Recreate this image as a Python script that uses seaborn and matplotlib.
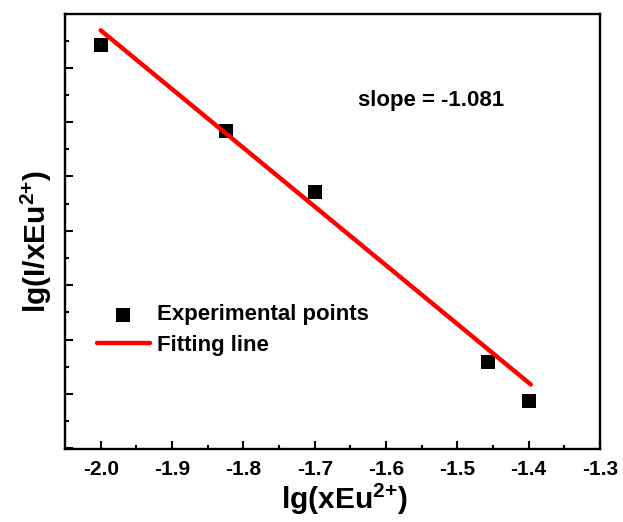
import matplotlib
matplotlib.use("Agg")
import matplotlib.pyplot as plt
import seaborn as sb
import numpy as np
from matplotlib.ticker import MultipleLocator

# ---- data ----
lg_x = [-2.0, -1.824, -1.700, -1.457, -1.399]
lg_I = [3.642, 3.484, 3.371, 3.059, 2.987]
slope = -1.081
intercept = 1.507
fit_x = [-2.0, -1.397]
fit_y = [intercept + slope * v for v in fit_x]

sb.set_style("ticks")
plt.rcParams["font.family"] = ["Liberation Sans", "DejaVu Sans"]
plt.rcParams["font.weight"] = "bold"
plt.rcParams["text.color"] = "black"
plt.rcParams["xtick.color"] = "black"
plt.rcParams["ytick.color"] = "black"
plt.rcParams["axes.labelcolor"] = "black"
plt.rcParams["mathtext.fontset"] = "custom"
plt.rcParams["mathtext.rm"] = "Liberation Sans:bold"
plt.rcParams["mathtext.it"] = "Liberation Sans:bold"
plt.rcParams["mathtext.bf"] = "Liberation Sans:bold"

fig = plt.figure(figsize=(6.23, 5.22), dpi=100)
ax = fig.add_axes([65 / 623, 1 - 449.3 / 522, 535 / 623, 435.3 / 522])

sb.scatterplot(x=lg_x, y=lg_I, marker="s", s=105, color="black", linewidth=0,
               label="Experimental points", ax=ax, zorder=2)
sb.lineplot(x=fit_x, y=fit_y, color="#ff0000", linewidth=3.2,
            label="Fitting line", ax=ax, zorder=3)

ax.set_xlim(-2.05, -1.3)
ax.set_ylim(2.898, 3.699)
ax.xaxis.set_major_locator(MultipleLocator(0.1))
ax.xaxis.set_minor_locator(MultipleLocator(0.05))
ax.yaxis.set_major_locator(MultipleLocator(0.1))
ax.yaxis.set_minor_locator(MultipleLocator(0.05))
ax.xaxis.set_major_formatter(plt.FuncFormatter(lambda v, p: "%.1f" % v))
ax.tick_params(which="both", direction="in", top=False, right=False, width=1.5)
ax.tick_params(which="major", length=6, pad=8, labelsize=15)
ax.tick_params(which="minor", length=3)
ax.tick_params(axis="y", labelleft=False)
for sp in ax.spines.values():
    sp.set_linewidth(1.7)
    sp.set_color("black")

ax.set_xlabel("lg(xEu$^{2{+}}$)", fontsize=21.5, fontweight="bold")
ax.set_ylabel("lg(I/xEu$^{2{+}}$)", fontsize=21.5, fontweight="bold")
ax.xaxis.set_label_coords(0.5215, -0.0744)
ax.yaxis.set_label_coords(-0.021, 0.4785)

ax.text(-1.639, 3.5296, "slope = -1.081", fontsize=16, fontweight="bold",
        ha="left", va="baseline")

ax.legend(loc="upper left", bbox_to_anchor=(0.0593, 0.333), frameon=False,
          handlelength=2.4, handletextpad=0.3, borderpad=0,
          borderaxespad=0, labelspacing=0.42,
          prop={"weight": "bold", "size": 16})

plt.savefig("out.png", dpi=100)
plt.close()
